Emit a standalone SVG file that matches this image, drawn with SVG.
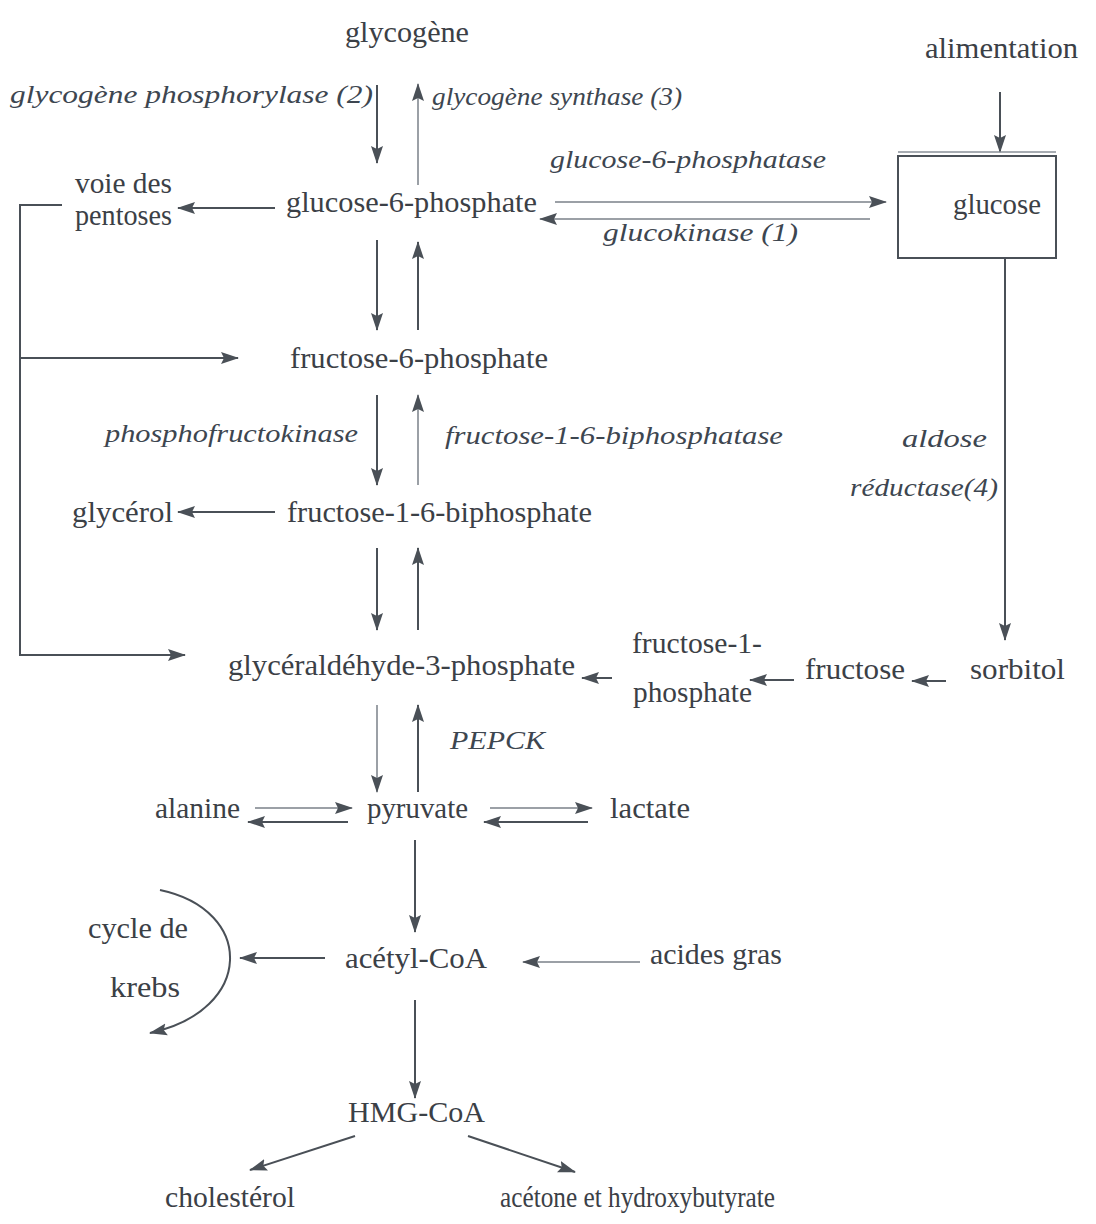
<svg xmlns="http://www.w3.org/2000/svg" width="1096" height="1224" viewBox="0 0 1096 1224">
<style>
.t{font-family:"Liberation Serif","DejaVu Serif",serif;font-size:30px;fill:#3b4046}
.i{font-family:"Liberation Serif","DejaVu Serif",serif;font-size:26px;font-style:italic;fill:#3d4650}
.c{stroke:#4a5057;stroke-width:2;fill:none}
.l{stroke:#7a8088;stroke-width:1.5;fill:none}
</style>
<defs>
<marker id="a" markerUnits="userSpaceOnUse" markerWidth="20" markerHeight="14" refX="17" refY="7" orient="auto">
<path d="M0,1 L18,7 L0,13 L3,7 Z" fill="#4a5057"/>
</marker>
</defs>
<rect width="1096" height="1224" fill="#ffffff"/>
<g id="connectors">
<line class="c" x1="377" y1="85" x2="377" y2="163" marker-end="url(#a)"/>
<line class="l" x1="418" y1="185" x2="418" y2="84" marker-end="url(#a)"/>
<line class="c" x1="1000" y1="92" x2="1000" y2="152" marker-end="url(#a)"/>
<line class="l" x1="555" y1="202" x2="886" y2="202" marker-end="url(#a)"/>
<line class="l" x1="870" y1="219" x2="540" y2="219" marker-end="url(#a)"/>
<line class="c" x1="275" y1="208" x2="178" y2="208" marker-end="url(#a)"/>
<polyline class="c" points="62,205 20,205 20,655 185,655" marker-end="url(#a)"/>
<line class="c" x1="20" y1="358" x2="238" y2="358" marker-end="url(#a)"/>
<line class="c" x1="377" y1="240" x2="377" y2="330" marker-end="url(#a)"/>
<line class="c" x1="418" y1="330" x2="418" y2="242" marker-end="url(#a)"/>
<line class="c" x1="377" y1="395" x2="377" y2="485" marker-end="url(#a)"/>
<line class="l" x1="418" y1="485" x2="418" y2="395" marker-end="url(#a)"/>
<line class="c" x1="275" y1="512" x2="178" y2="512" marker-end="url(#a)"/>
<line class="c" x1="377" y1="548" x2="377" y2="630" marker-end="url(#a)"/>
<line class="c" x1="418" y1="630" x2="418" y2="548" marker-end="url(#a)"/>
<line class="c" x1="1005" y1="258" x2="1005" y2="640" marker-end="url(#a)"/>
<line class="c" x1="612" y1="678" x2="582" y2="678" marker-end="url(#a)"/>
<line class="c" x1="794" y1="680" x2="750" y2="680" marker-end="url(#a)"/>
<line class="c" x1="946" y1="681" x2="912" y2="681" marker-end="url(#a)"/>
<line class="l" x1="377" y1="705" x2="377" y2="792" marker-end="url(#a)"/>
<line class="c" x1="418" y1="792" x2="418" y2="705" marker-end="url(#a)"/>
<line class="l" x1="255" y1="808" x2="352" y2="808" marker-end="url(#a)"/>
<line class="c" x1="348" y1="822" x2="248" y2="822" marker-end="url(#a)"/>
<line class="l" x1="490" y1="808" x2="592" y2="808" marker-end="url(#a)"/>
<line class="c" x1="588" y1="822" x2="484" y2="822" marker-end="url(#a)"/>
<line class="c" x1="415" y1="840" x2="415" y2="932" marker-end="url(#a)"/>
<line class="c" x1="325" y1="958" x2="240" y2="958" marker-end="url(#a)"/>
<line class="l" x1="640" y1="962" x2="523" y2="962" marker-end="url(#a)"/>
<path class="c" d="M160,890 C255,910 255,1010 150,1033" marker-end="url(#a)"/>
<line class="c" x1="415" y1="1000" x2="415" y2="1098" marker-end="url(#a)"/>
<line class="c" x1="355" y1="1136" x2="250" y2="1170" marker-end="url(#a)"/>
<line class="c" x1="468" y1="1136" x2="575" y2="1172" marker-end="url(#a)"/>
</g>
<g id="glycogene"><text class="t" x="345" y="42" textLength="124" lengthAdjust="spacingAndGlyphs">glycogène</text></g>
<g id="lbl-phosphorylase"><text class="i" x="10" y="103" textLength="363" lengthAdjust="spacingAndGlyphs">glycogène  phosphorylase (2)</text></g>
<g id="lbl-synthase"><text class="i" x="432" y="105" textLength="250" lengthAdjust="spacingAndGlyphs">glycogène  synthase (3)</text></g>
<g id="alimentation"><text class="t" x="925" y="58" textLength="153" lengthAdjust="spacingAndGlyphs">alimentation</text></g>
<g id="glucose">
<rect x="898" y="156" width="158" height="102" fill="none" stroke="#4a5057" stroke-width="2"/>
<line x1="898" y1="152" x2="1056" y2="152" stroke="#8a9098" stroke-width="1.5"/>
<text class="t" x="953" y="214" textLength="88" lengthAdjust="spacingAndGlyphs">glucose</text></g>
<g id="lbl-g6pase"><text class="i" x="550" y="168" textLength="276" lengthAdjust="spacingAndGlyphs">glucose-6-phosphatase</text></g>
<g id="lbl-glucokinase"><text class="i" x="603" y="241" textLength="195" lengthAdjust="spacingAndGlyphs">glucokinase (1)</text></g>
<g id="g6p"><text class="t" x="286" y="212" textLength="251" lengthAdjust="spacingAndGlyphs">glucose-6-phosphate</text></g>
<g id="pentoses"><text class="t" x="75" y="193" textLength="97" lengthAdjust="spacingAndGlyphs">voie des</text><text class="t" x="75" y="225" textLength="97" lengthAdjust="spacingAndGlyphs">pentoses</text></g>
<g id="f6p"><text class="t" x="290" y="368" textLength="258" lengthAdjust="spacingAndGlyphs">fructose-6-phosphate</text></g>
<g id="lbl-pfk"><text class="i" x="105" y="442" textLength="253" lengthAdjust="spacingAndGlyphs">phosphofructokinase</text></g>
<g id="lbl-fbpase"><text class="i" x="445" y="444" textLength="338" lengthAdjust="spacingAndGlyphs">fructose-1-6-biphosphatase</text></g>
<g id="glycerol"><text class="t" x="72" y="522" textLength="101" lengthAdjust="spacingAndGlyphs">glycérol</text></g>
<g id="f16bp"><text class="t" x="287" y="522" textLength="305" lengthAdjust="spacingAndGlyphs">fructose-1-6-biphosphate</text></g>
<g id="lbl-aldose"><text class="i" x="902" y="447" textLength="85" lengthAdjust="spacingAndGlyphs">aldose</text><text class="i" x="850" y="496" textLength="148" lengthAdjust="spacingAndGlyphs">réductase(4)</text></g>
<g id="ga3p"><text class="t" x="228" y="675" textLength="347" lengthAdjust="spacingAndGlyphs">glycéraldéhyde-3-phosphate</text></g>
<g id="f1p"><text class="t" x="632" y="653" textLength="130" lengthAdjust="spacingAndGlyphs">fructose-1-</text><text class="t" x="633" y="702" textLength="119" lengthAdjust="spacingAndGlyphs">phosphate</text></g>
<g id="fructose"><text class="t" x="805" y="679" textLength="100" lengthAdjust="spacingAndGlyphs">fructose</text></g>
<g id="sorbitol"><text class="t" x="970" y="679" textLength="95" lengthAdjust="spacingAndGlyphs">sorbitol</text></g>
<g id="lbl-pepck"><text class="i" x="450" y="749" textLength="95" lengthAdjust="spacingAndGlyphs">PEPCK</text></g>
<g id="alanine"><text class="t" x="155" y="818" textLength="85" lengthAdjust="spacingAndGlyphs">alanine</text></g>
<g id="pyruvate"><text class="t" x="367" y="818" textLength="101" lengthAdjust="spacingAndGlyphs">pyruvate</text></g>
<g id="lactate"><text class="t" x="610" y="818" textLength="80" lengthAdjust="spacingAndGlyphs">lactate</text></g>
<g id="krebs"><text class="t" x="88" y="938" textLength="100" lengthAdjust="spacingAndGlyphs">cycle de</text><text class="t" x="110" y="997" textLength="70" lengthAdjust="spacingAndGlyphs">krebs</text></g>
<g id="acetylcoa"><text class="t" x="345" y="968" textLength="142" lengthAdjust="spacingAndGlyphs">acétyl-CoA</text></g>
<g id="acides"><text class="t" x="650" y="964" textLength="132" lengthAdjust="spacingAndGlyphs">acides gras</text></g>
<g id="hmgcoa"><text class="t" x="348" y="1122" textLength="137" lengthAdjust="spacingAndGlyphs">HMG-CoA</text></g>
<g id="cholesterol"><text class="t" x="165" y="1207" textLength="130" lengthAdjust="spacingAndGlyphs">cholestérol</text></g>
<g id="acetone"><text class="t" x="500" y="1207" textLength="275" lengthAdjust="spacingAndGlyphs">acétone et hydroxybutyrate</text></g>
</svg>
